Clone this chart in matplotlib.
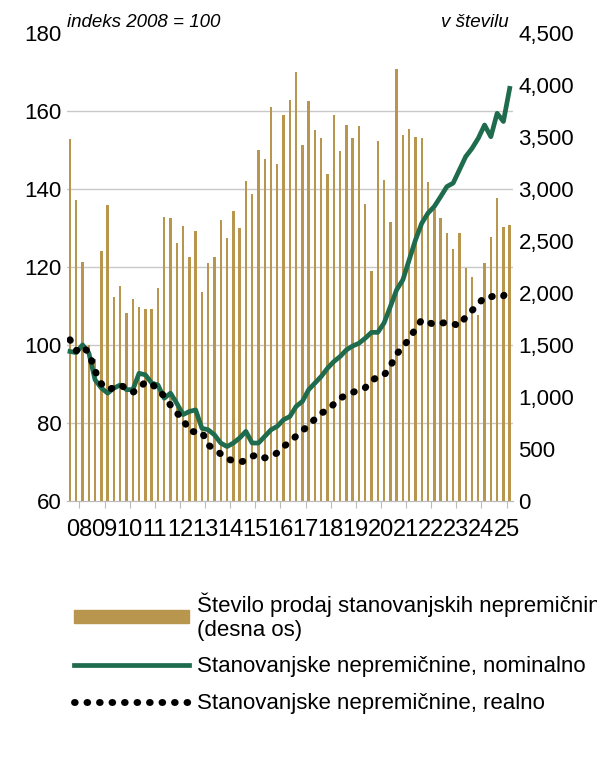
import matplotlib.pyplot as plt
from matplotlib.ticker import FuncFormatter
from matplotlib.lines import Line2D
from matplotlib.patches import Patch
import numpy as np

plt.rcParams['font.family'] = ['Liberation Sans', 'DejaVu Sans']

years = ['08', '09', '10', '11', '12', '13', '14', '15', '16', '17', '18',
         '19', '20', '21', '22', '23', '24', '25']

# quarterly number of sales (right axis), 2008Q1 onwards
sales = [3481, 2894, 2295, 1500, 1365, 2404, 2846, 1962, 2067, 1808, 1942, 1865,
         1846, 1846, 2048, 2731, 2721, 2481, 2644, 2346, 2596, 2010, 2288, 2346,
         2702, 2529, 2788, 2625, 3077, 2952, 3375, 3288, 3788, 3240, 3712, 3856,
         4125, 3423, 3846, 3567, 3490, 3144, 3712, 3365, 3615, 3490, 3606, 2856,
         2212, 3462, 3087, 2683, 4154, 3519, 3577, 3500, 3490, 3067, 2808, 2721,
         2577, 2423, 2577, 2240, 2154, 1788, 2288, 2538, 2913, 2635, 2654]

nominal = [98.3, 98.0, 100.0, 97.9, 91.0, 88.9, 87.6, 88.9, 89.7, 88.5, 88.5, 92.7,
           92.3, 90.2, 89.7, 86.3, 87.6, 85.0, 82.1, 82.9, 83.3, 78.6, 78.2, 76.9,
           74.8, 73.9, 74.8, 76.1, 77.8, 74.8, 74.8, 76.5, 78.2, 79.1, 80.8, 81.6,
           84.2, 85.5, 88.5, 90.2, 91.9, 94.0, 95.7, 97.0, 98.7, 99.7, 100.4, 101.7,
           103.2, 103.2, 105.6, 109.8, 114.1, 116.7, 121.8, 126.9, 131.2, 133.8, 135.5,
           138.0, 140.6, 141.5, 144.9, 148.3, 150.4, 153.0, 156.4, 153.4, 159.4, 157.3,
           165.8]

real = [101.3, 98.5, 99.6, 98.0, 93.3, 90.0, 88.5, 89.0, 89.7, 88.8, 87.8, 88.8,
        90.5, 90.0, 88.5, 86.8, 84.5, 82.5, 81.0, 77.8, 77.7, 77.7, 74.3, 73.2,
        72.0, 70.7, 70.3, 69.9, 70.3, 71.4, 71.9, 71.0, 71.3, 72.3, 73.9, 75.1,
        76.6, 78.0, 79.3, 81.0, 82.5, 83.2, 84.8, 86.3, 87.1, 87.8, 88.4, 89.0,
        90.8, 91.8, 92.2, 94.5, 97.6, 99.5, 101.5, 104.1, 106.4, 105.8, 105.2,
        105.5, 105.8, 105.4, 104.9, 107.2, 108.8, 110.4, 112.3, 112.3, 112.8,
        112.5, 115.0]

bar_col = '#B8964E'
green = '#1E6B4D'
dots = (0, (0.1, 1.7))

x = np.arange(len(sales))
fig = plt.figure(figsize=(5.97, 7.68), dpi=100)
ax = fig.add_axes([0.112, 0.348, 0.747, 0.609])
ax2 = ax.twinx()
ax2.bar(x, sales, width=0.38, color=bar_col)
ax2.set_ylim(0, 4500)
ax2.set_yticks(range(0, 4501, 500))
ax2.yaxis.set_major_formatter(FuncFormatter(lambda v, p: f'{int(v):,}'))

ax.set_zorder(ax2.get_zorder() + 1)
ax.patch.set_visible(False)
ax.plot(x, nominal, color=green, lw=3.4)
ax.plot(x, real, color='black', lw=5, linestyle=dots, dash_capstyle='round')
ax.set_ylim(60, 180)
ax.set_yticks(range(60, 181, 20))
for v in range(80, 180, 20):
    ax2.axhline((v - 60) / 120 * 4500, color='#c8c8c8', lw=1, zorder=0)
ax.set_xlim(-0.5, len(sales) - 0.5)
ax.set_xticks(np.arange(len(years)) * 4 + 1.5)
ax.set_xticklabels(years)

for a in (ax, ax2):
    for s in ('top', 'left', 'right'):
        a.spines[s].set_visible(False)
    a.spines['bottom'].set_color('#bbbbbb')
    a.tick_params(axis='y', length=0, labelsize=16)
ax.tick_params(axis='x', labelsize=17, color='#bbbbbb', length=5, pad=8)
ax.tick_params(axis='y', pad=4)
ax2.tick_params(axis='y', pad=4)

ax.text(0.0, 1.005, 'indeks 2008 = 100', transform=ax.transAxes, style='italic',
        fontsize=13.5, va='bottom')
ax.text(0.99, 1.005, 'v številu', transform=ax.transAxes, style='italic',
        fontsize=13.5, va='bottom', ha='right')

handles = [Patch(color=bar_col),
           Line2D([], [], color=green, lw=3.4),
           Line2D([], [], color='black', lw=5, linestyle=dots, dash_capstyle='round')]
labels = ['Število prodaj stanovanjskih nepremičnin\n(desna os)',
          'Stanovanjske nepremičnine, nominalno',
          'Stanovanjske nepremičnine, realno']
fig.legend(handles, labels, loc='upper left', bbox_to_anchor=(0.09, 0.255),
           frameon=False, fontsize=16, handlelength=5.2, handleheight=0.5,
           labelspacing=0.7, handletextpad=0.35)

fig.savefig('out.png', dpi=100)
